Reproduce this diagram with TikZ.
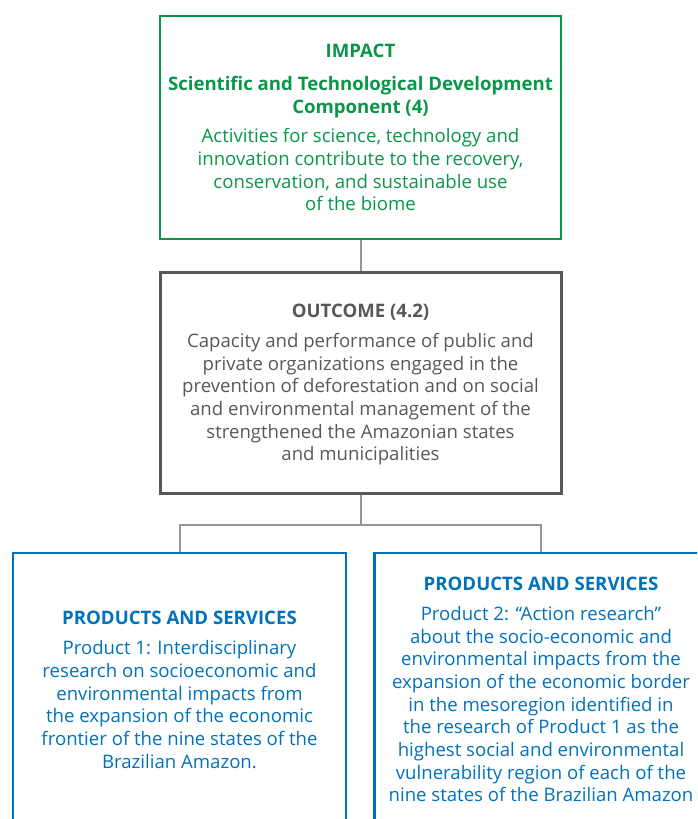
\documentclass[tikz,border=0pt]{standalone}
\usepackage{fontspec}
\setmainfont{Open Sans}
\usetikzlibrary{positioning}

\definecolor{impactgreen}{RGB}{10,150,72}
\definecolor{outcomegray}{RGB}{88,88,90}
\definecolor{linkgray}{RGB}{150,150,152}
\definecolor{productblue}{RGB}{0,114,188}

\begin{document}
\begin{tikzpicture}[
box/.style={draw,line width=1.25pt,inner sep=0pt,align=center,text depth=0pt,font=\fontsize{9.3}{11.35}\selectfont},
impactbox/.style={box,draw=impactgreen,text=impactgreen,minimum width=200.5pt,minimum height=111.5pt},
outcomebox/.style={box,draw=outcomegray,text=outcomegray,line width=1.5pt,minimum width=200.5pt,minimum height=110.5pt},
productbox/.style={box,draw=productblue,text=productblue,minimum width=166.5pt,minimum height=136.5pt},
link/.style={draw=linkgray,line width=1pt},
node distance=127.5pt
]

\clip (0,0) rectangle (348.5pt,-409.5pt);

\node[impactbox] (impact) at (180.25pt,-63.75pt) {\textbf{IMPACT}\\[5pt]
	\textbf{Scientific and Technological Development}\\
	\textbf{Component (4)}\\[3.5pt]
	Activities for science, technology and\\
	innovation contribute to the recovery,\\
	conservation, and sustainable use\\
	of the biome};
	\node[outcomebox] (outcome) [below of = impact] {\textbf{OUTCOME (4.2)}\\[3.5pt]
		Capacity and performance of public and\\
		private organizations engaged in the\\
		prevention of deforestation and on social\\
		and environmental management of the\\
		strengthened the Amazonian states\\
		and municipalities};
		\node[productbox] (prodA) [below of = outcome,yshift=-26pt,xshift=-90.5pt] {\textbf{PRODUCTS AND SERVICES}\\[4pt]
			Product 1: Interdisciplinary\\
			research on socioeconomic and\\
			environmental impacts from\\
			the expansion of the economic\\
			frontier of the nine states of the\\
			Brazilian Amazon.};
		\node[productbox] (prodB) [below of = outcome,yshift=-26pt,xshift=90.25pt,text depth=-2pt] {\textbf{PRODUCTS AND SERVICES}\\[3.5pt]
			Product 2: “Action research”\\
			about the socio-economic and\\
			environmental impacts from the\\
			expansion of the economic border\\
			in the mesoregion identified in\\
			the research of Product 1 as the\\
			highest social and environmental\\
			vulnerability region of each of the\\
			nine states of the Brazilian Amazon};

\draw[link] (impact) -- (outcome);
\draw[link] (outcome.south) -- ++(0,-15pt) coordinate (bus) -| (prodA.north);
	\draw[link] (bus) -| (prodB.north);

\end{tikzpicture}
\end{document}
